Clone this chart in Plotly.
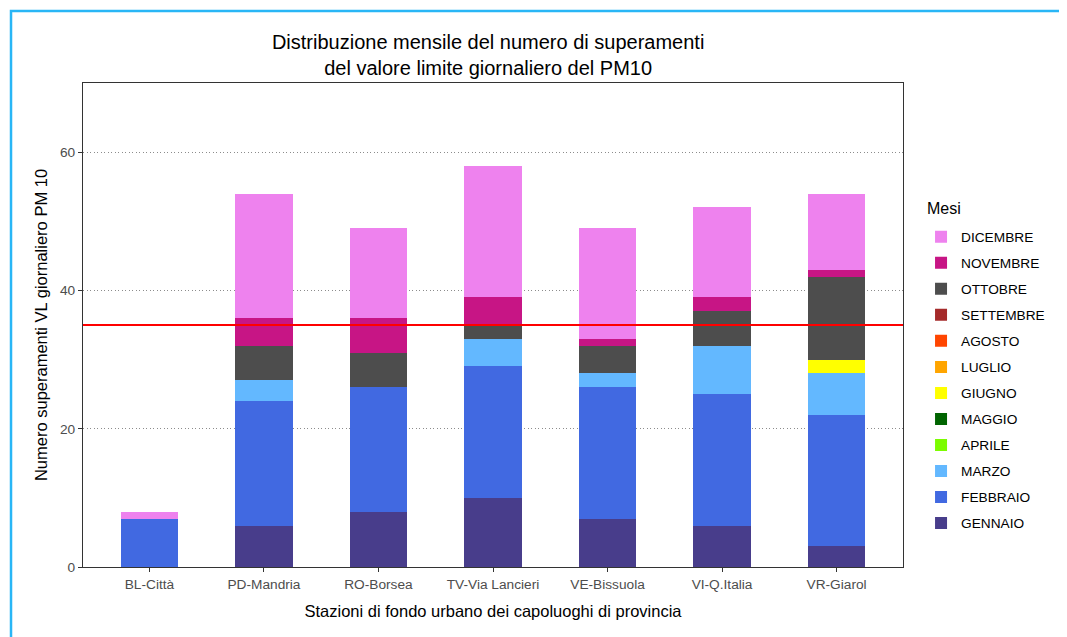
import plotly.graph_objects as go

stations = ["BL-Città", "PD-Mandria", "RO-Borsea", "TV-Via Lancieri",
            "VE-Bissuola", "VI-Q.Italia", "VR-Giarol"]

months = ["GENNAIO", "FEBBRAIO", "MARZO", "APRILE", "MAGGIO", "GIUGNO",
          "LUGLIO", "AGOSTO", "SETTEMBRE", "OTTOBRE", "NOVEMBRE", "DICEMBRE"]

gennaio   = [0, 6, 8, 10, 7, 6, 3]
febbraio  = [7, 18, 18, 19, 19, 19, 19]
marzo     = [0, 3, 0, 4, 2, 7, 6]
aprile    = [0, 0, 0, 0, 0, 0, 0]
maggio    = [0, 0, 0, 0, 0, 0, 0]
giugno    = [0, 0, 0, 0, 0, 0, 2]
luglio    = [0, 0, 0, 0, 0, 0, 0]
agosto    = [0, 0, 0, 0, 0, 0, 0]
settembre = [0, 0, 0, 0, 0, 0, 0]
ottobre   = [0, 5, 5, 2, 4, 5, 12]
novembre  = [0, 4, 5, 4, 1, 2, 1]
dicembre  = [1, 18, 13, 19, 16, 13, 11]

values = [gennaio, febbraio, marzo, aprile, maggio, giugno,
          luglio, agosto, settembre, ottobre, novembre, dicembre]

colors = ["#483D8B", "#4169E1", "#63B8FF", "#7CFC00", "#006400", "#FFFF00",
          "#FFA500", "#FF4500", "#A52A2A", "#4D4D4D", "#C71585", "#EE82EE"]

limit_value = 35
y_ticks = [0, 20, 40, 60]

FONT = "Liberation Sans, Arial, sans-serif"

fig = go.Figure()
n = len(months)
for i, (m, v, c) in enumerate(zip(months, values, colors)):
    fig.add_trace(go.Bar(
        x=stations, y=v, name=m, marker_color=c,
        marker_line_width=0, width=0.5, legendgroup=m,
        legendrank=1000 + (n - i),
    ))

fig.add_hline(y=limit_value, line_color="#FF0000", line_width=2)

# screenshot frame (light blue border at left and top)
fig.add_shape(type="path", xref="paper", yref="paper",
              path="M -0.0878,-0.2 L -0.0878,1.1488 L 1.25,1.1488",
              line=dict(color="#29B6F6", width=2.5))

# legend title
fig.add_annotation(text="Mesi", xref="paper", yref="paper",
                   x=1.0265, y=0.7417, xanchor="left", yanchor="middle",
                   showarrow=False, font=dict(size=16, family=FONT, color="black"))

fig.update_layout(
    width=1067, height=637,
    barmode="stack",
    bargap=0.5,
    plot_bgcolor="white", paper_bgcolor="white",
    margin=dict(l=75, r=172, t=75, b=78),
    font=dict(family=FONT, color="black"),
    title=dict(
        text="Distribuzione mensile del numero di superamenti<br>del valore limite giornaliero del PM10",
        x=0.45, xanchor="center", y=0.9356, yanchor="top",
        font=dict(size=20, family=FONT, color="black"),
    ),
    legend=dict(
        traceorder="grouped", tracegroupgap=5.2,
        font=dict(size=13.7, family=FONT, color="black"),
        x=1.022, xanchor="left", y=0.714, yanchor="top",
        itemwidth=30,
    ),
    xaxis=dict(
        title=dict(text="Stazioni di fondo urbano dei capoluoghi di provincia",
                   font=dict(size=16.5, family=FONT), standoff=14),
        range=[-0.58, 6.58],
        showline=True, linecolor="#333333", linewidth=1.2, mirror=True,
        ticks="outside", ticklen=4, tickcolor="#333333",
        tickfont=dict(size=13.7, color="#4D4D4D", family=FONT),
        showgrid=False,
    ),
    yaxis=dict(
        title=dict(text="Numero superamenti VL giornaliero PM 10",
                   font=dict(size=16.5, family=FONT), standoff=8),
        range=[0, 70], tickvals=y_ticks,
        showline=True, linecolor="#333333", linewidth=1.2, mirror=True,
        ticks="outside", ticklen=4, tickcolor="#333333",
        tickfont=dict(size=13.7, color="#4D4D4D", family=FONT),
        showgrid=True, gridcolor="#8C8C8C", griddash="1px,2.5px", gridwidth=1,
        zeroline=False,
    ),
)

fig.write_html("out.html")
